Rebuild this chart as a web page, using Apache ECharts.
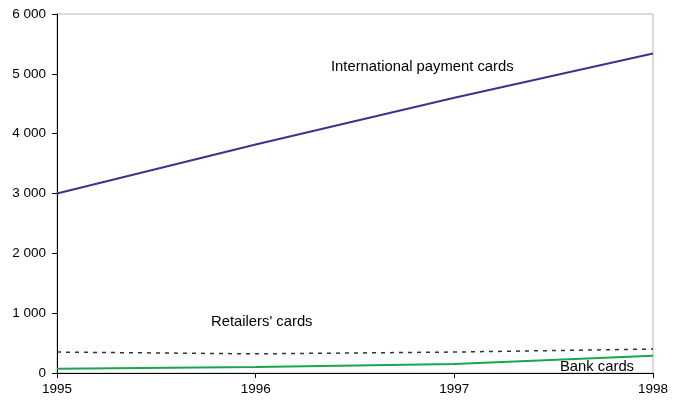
<!DOCTYPE html>
<html>
<head>
<meta charset="utf-8">
<script src="https://cdn.jsdelivr.net/npm/echarts@6/dist/echarts.min.js"></script>
<style>html,body{margin:0;padding:0;background:#fff}#c{width:677px;height:400px}</style>
</head>
<body>
<div id="c"></div>
<script>
var years = ['1995', '1996', '1997', '1998'];
var internationalCards = [3000, 3820, 4600, 5340];
var retailersCards = [350, 320, 350, 400];
var bankCards = [70, 100, 150, 290];
var yTicks = [0, 1000, 2000, 3000, 4000, 5000, 6000];

var chart = echarts.init(document.getElementById('c'));
function fmt(v) { return String(v).replace(/\B(?=(\d{3})+(?!\d))/g, ' '); }
var font = 'Liberation Sans, Arial, sans-serif';
chart.setOption({
  animation: false,
  grid: { left: 57, right: 24, top: 14, bottom: 27, show: true, borderColor: '#b4b4b4', borderWidth: 1 },
  xAxis: {
    type: 'category', data: years, boundaryGap: false,
    axisLine: { lineStyle: { color: '#000', width: 1 } },
    axisTick: { show: true, length: 5, alignWithLabel: true, lineStyle: { color: '#000' } },
    axisLabel: { color: '#000', fontSize: 13.5, fontFamily: font, margin: 9 },
    splitLine: { show: false }
  },
  yAxis: {
    type: 'value', min: yTicks[0], max: yTicks[yTicks.length - 1], interval: 1000,
    axisLine: { show: true, lineStyle: { color: '#000', width: 1 } },
    axisTick: { show: true, length: 5, lineStyle: { color: '#000' } },
    axisLabel: { color: '#000', fontSize: 13.5, fontFamily: font, margin: 11, formatter: fmt },
    splitLine: { show: false }
  },
  series: [
    { name: 'International payment cards', type: 'line', data: internationalCards, symbol: 'none',
      lineStyle: { color: '#40308f', width: 2 } },
    { name: "Retailers' cards", type: 'line', data: retailersCards, symbol: 'none',
      lineStyle: { color: '#333', width: 1.5, type: [4, 5] } },
    { name: 'Bank cards', type: 'line', data: bankCards, symbol: 'none',
      lineStyle: { color: '#1aa64a', width: 2 } }
  ],
  graphic: [
    { type: 'text', left: 331, top: 59, style: { text: 'International payment cards', font: '14.8px ' + font, fill: '#000' } },
    { type: 'text', left: 211, top: 314, style: { text: "Retailers' cards", font: '14.8px ' + font, fill: '#000' } },
    { type: 'text', left: 560, top: 359, style: { text: 'Bank cards', font: '14.8px ' + font, fill: '#000' } }
  ]
});
</script>
</body>
</html>
